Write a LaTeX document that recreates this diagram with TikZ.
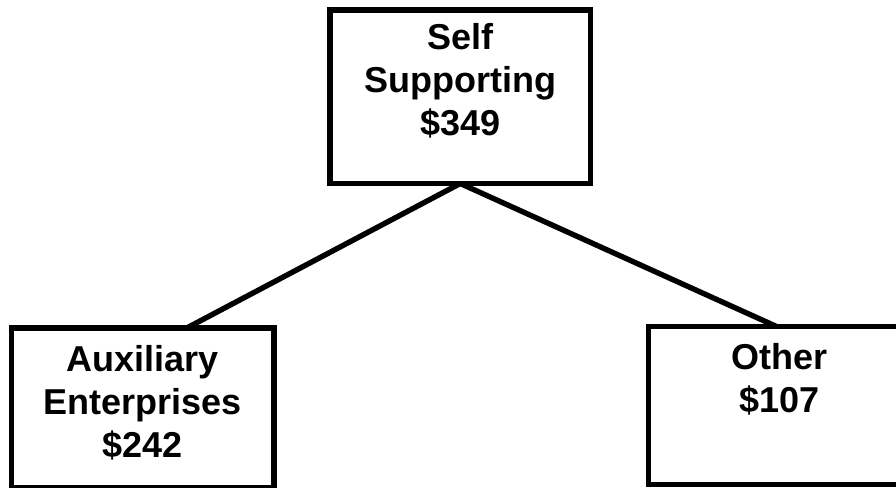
\documentclass[tikz,border=0pt]{standalone}
\usepackage{fontspec}
\setmainfont{Liberation Sans}
\begin{document}
\begin{tikzpicture}[x=1pt,y=-1pt,
	box/.style={draw,line width=5.4pt,inner sep=0pt,outer sep=0pt},
	txt/.style={anchor=north,align=center,inner sep=0pt,font=\fontsize{36}{43}\selectfont\bfseries},
	link/.style={line width=5.4pt}]
	\useasboundingbox(0,0) rectangle (896,487);
	\clip(0,0) rectangle (896,487);
	\node[box,minimum width=260.5pt,minimum height=173.5pt] (self) at (460.25,96.75) {};
	\node[box,minimum width=262.5pt,minimum height=160pt] (aux) at (142.75,408) {};
	\node[box,minimum width=262pt,minimum height=158.2pt] (other) at (779.5,405.6) {};
	\node[txt] (selftxt) at ([yshift=-13.5pt]self.north) {Self\\Supporting\\\$349};
	\node[txt] (auxtxt) at ([yshift=-17.5pt]aux.north) {Auxiliary\\Enterprises\\\$242};
	\node[txt] (othertxt) at ([yshift=-16.5pt]other.north) {Other\\\$107};
	\draw[link](self.south)--([xshift=44pt]aux.north);
	\draw[link](self.south)--([xshift=-3pt]other.north);
\end{tikzpicture}
\end{document}
